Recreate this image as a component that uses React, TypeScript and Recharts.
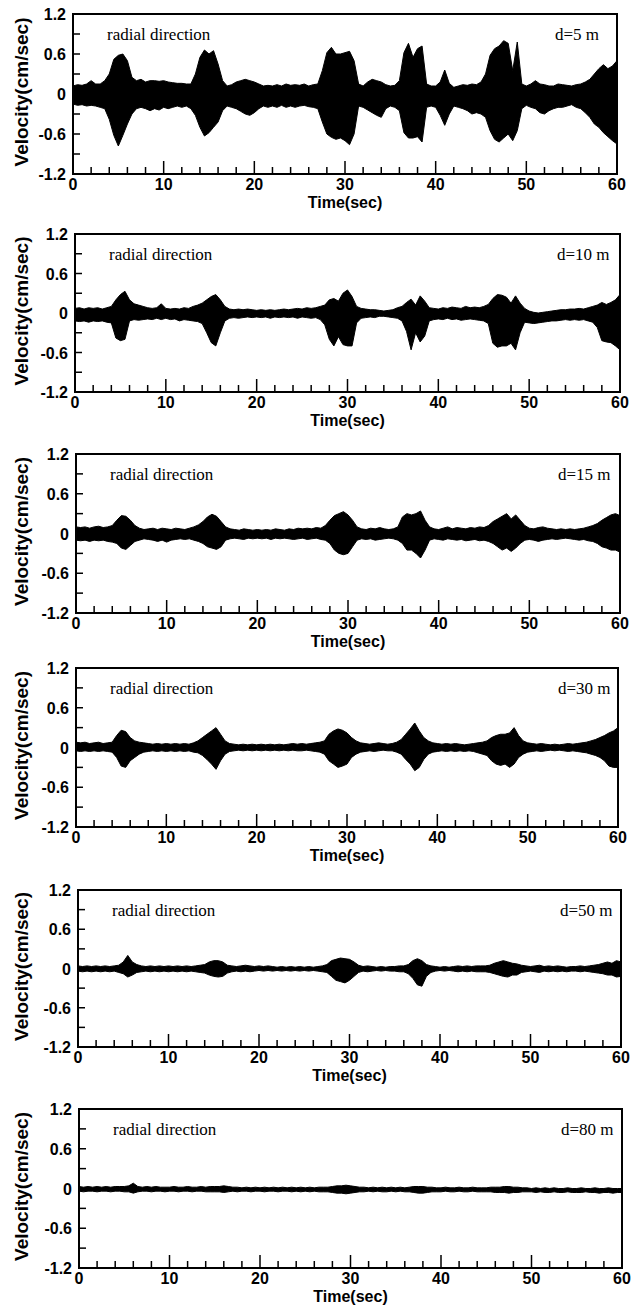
import { AreaChart, Area, XAxis, YAxis, ReferenceArea } from "recharts";

// sample grid: 0 .. 60 s every 0.5 s (121 points); envelopes
const TIME = Array.from({ length: 121 }, (_, i) => i / 2);

const X_TICKS = [0, 2, 4, 6, 8, 10, 12, 14, 16, 18, 20, 22, 24, 26, 28, 30, 32, 34, 36, 38, 40, 42, 44, 46, 48, 50, 52, 54, 56, 58, 60];
const Y_TICKS = [-1.2, -0.9, -0.6, -0.3, 0, 0.3, 0.6, 0.9, 1.2];
const Y_LABELED = [-1.2, -0.6, 0, 0.6, 1.2];

// d = 5 m
const HI_5 = [
  0.12, 0.14, 0.13, 0.15, 0.2, 0.15, 0.15, 0.2, 0.3, 0.52,
  0.58, 0.6, 0.5, 0.25, 0.2, 0.22, 0.18, 0.2, 0.2, 0.19,
  0.2, 0.18, 0.17, 0.16, 0.16, 0.15, 0.15, 0.3, 0.55, 0.66,
  0.6, 0.65, 0.45, 0.2, 0.12, 0.14, 0.18, 0.2, 0.22, 0.2,
  0.18, 0.15, 0.12, 0.13, 0.12, 0.14, 0.12, 0.15, 0.13, 0.14,
  0.13, 0.15, 0.12, 0.14, 0.15, 0.35, 0.62, 0.7, 0.6, 0.6,
  0.62, 0.64, 0.5, 0.15, 0.12, 0.18, 0.22, 0.2, 0.18, 0.14,
  0.12, 0.13, 0.2, 0.62, 0.76, 0.55, 0.68, 0.72, 0.15, 0.12,
  0.12, 0.18, 0.36, 0.16, 0.1, 0.12, 0.14, 0.13, 0.15, 0.14,
  0.18, 0.3, 0.58, 0.68, 0.72, 0.8, 0.76, 0.35, 0.78, 0.15,
  0.12, 0.15, 0.2, 0.15, 0.14, 0.12, 0.12, 0.15, 0.14, 0.13,
  0.12, 0.14, 0.15, 0.18, 0.22, 0.3, 0.38, 0.44, 0.38, 0.42,
  0.5,
];
const LO_5 = [
  -0.15, -0.17, -0.16, -0.18, -0.17, -0.18, -0.2, -0.22, -0.38, -0.62,
  -0.78, -0.62, -0.45, -0.3, -0.22, -0.2, -0.22, -0.25, -0.22, -0.24,
  -0.2, -0.22, -0.2, -0.18, -0.2, -0.18, -0.22, -0.32, -0.5, -0.63,
  -0.58, -0.5, -0.42, -0.25, -0.18, -0.2, -0.22, -0.26, -0.3, -0.32,
  -0.28, -0.22, -0.18, -0.2, -0.18, -0.2, -0.17, -0.2, -0.18, -0.2,
  -0.18, -0.17, -0.19, -0.2, -0.22, -0.42, -0.6, -0.65, -0.68, -0.66,
  -0.7, -0.76, -0.6, -0.18, -0.2, -0.24, -0.28, -0.32, -0.35, -0.22,
  -0.18, -0.2, -0.25, -0.58, -0.66, -0.66, -0.64, -0.72, -0.2, -0.18,
  -0.2, -0.32, -0.47, -0.3, -0.18, -0.2, -0.22, -0.25, -0.3, -0.28,
  -0.3, -0.35, -0.55, -0.68, -0.72, -0.66, -0.6, -0.7, -0.55, -0.22,
  -0.17, -0.2, -0.22, -0.28, -0.3, -0.25, -0.22, -0.2, -0.2, -0.18,
  -0.16, -0.2, -0.22, -0.28, -0.35, -0.45, -0.5, -0.58, -0.64, -0.7,
  -0.75,
];

// d = 10 m
const HI_10 = [
  0.07, 0.08, 0.06, 0.08, 0.07, 0.08, 0.06, 0.08, 0.1, 0.2,
  0.28, 0.33, 0.2, 0.14, 0.12, 0.1, 0.08, 0.07, 0.08, 0.14,
  0.07, 0.06, 0.07, 0.06, 0.08, 0.07, 0.1, 0.12, 0.15, 0.2,
  0.25, 0.28, 0.2, 0.1, 0.06, 0.05, 0.06, 0.05, 0.06, 0.05,
  0.04, 0.05, 0.04, 0.05, 0.04, 0.05, 0.06, 0.05, 0.06, 0.07,
  0.06, 0.08, 0.07, 0.08, 0.1, 0.12, 0.2, 0.22, 0.18, 0.3,
  0.35, 0.25, 0.1, 0.07, 0.06, 0.05, 0.05, 0.04, 0.03, 0.04,
  0.05, 0.08, 0.1, 0.16, 0.21, 0.12, 0.26, 0.18, 0.08, 0.07,
  0.06, 0.08, 0.07, 0.09, 0.08, 0.07, 0.1, 0.08, 0.09, 0.08,
  0.1, 0.13, 0.22, 0.28, 0.27, 0.24, 0.15, 0.26, 0.15, 0.07,
  0.03, 0.01, 0.0, 0.01, 0.02, 0.03, 0.04, 0.05, 0.05, 0.06,
  0.06, 0.07, 0.06, 0.08, 0.1, 0.12, 0.16, 0.13, 0.16, 0.2,
  0.28,
];
const LO_10 = [
  -0.12, -0.13, -0.12, -0.14, -0.12, -0.13, -0.12, -0.14, -0.15, -0.38,
  -0.42, -0.4, -0.12, -0.1, -0.11, -0.1, -0.09, -0.1, -0.08, -0.1,
  -0.08, -0.1, -0.09, -0.12, -0.1, -0.11, -0.12, -0.13, -0.16, -0.3,
  -0.45, -0.5, -0.3, -0.12, -0.08, -0.07, -0.08, -0.07, -0.06, -0.07,
  -0.06, -0.07, -0.06, -0.08, -0.06, -0.07, -0.06, -0.07, -0.06, -0.08,
  -0.06, -0.07, -0.08, -0.07, -0.1, -0.18, -0.4, -0.5, -0.36, -0.48,
  -0.5, -0.5, -0.15, -0.08, -0.07, -0.06, -0.07, -0.05, -0.05, -0.06,
  -0.07, -0.08, -0.12, -0.28, -0.56, -0.3, -0.44, -0.35, -0.12, -0.1,
  -0.09, -0.1, -0.08, -0.1, -0.09, -0.11, -0.1, -0.09, -0.1, -0.11,
  -0.12, -0.16, -0.46, -0.52, -0.5, -0.5, -0.46, -0.56, -0.3, -0.14,
  -0.15, -0.16, -0.15, -0.14, -0.13, -0.12, -0.12, -0.11, -0.1, -0.11,
  -0.1, -0.11, -0.1, -0.12, -0.14, -0.22, -0.42, -0.44, -0.45, -0.5,
  -0.56,
];

// d = 15 m
const HI_15 = [
  0.1, 0.09, 0.1, 0.08, 0.1, 0.11, 0.09, 0.1, 0.12, 0.2,
  0.27, 0.26, 0.2, 0.12, 0.08, 0.06, 0.07, 0.08, 0.06, 0.08,
  0.07, 0.06, 0.08, 0.07, 0.06, 0.08, 0.1, 0.13, 0.18, 0.25,
  0.29, 0.26, 0.18, 0.1, 0.07, 0.06, 0.05, 0.07, 0.06, 0.05,
  0.06, 0.05, 0.06, 0.05, 0.07, 0.06, 0.05, 0.07, 0.06, 0.08,
  0.07, 0.08, 0.07, 0.09, 0.08, 0.12, 0.2, 0.27, 0.3, 0.33,
  0.28, 0.2, 0.1, 0.07, 0.06, 0.08, 0.07, 0.09, 0.07, 0.06,
  0.07, 0.1, 0.25, 0.3, 0.28, 0.3, 0.34, 0.2, 0.1, 0.07,
  0.06, 0.08, 0.1, 0.07, 0.09, 0.08, 0.07, 0.09, 0.08, 0.1,
  0.09, 0.12, 0.18, 0.22, 0.26, 0.3, 0.22, 0.28, 0.2, 0.12,
  0.08, 0.07, 0.09, 0.1, 0.08, 0.07, 0.06, 0.07, 0.06, 0.07,
  0.06, 0.07, 0.08, 0.1, 0.12, 0.15, 0.2, 0.24, 0.28, 0.3,
  0.27,
];
const LO_15 = [
  -0.1, -0.11, -0.1, -0.12, -0.1, -0.11, -0.1, -0.12, -0.13, -0.15,
  -0.22, -0.24, -0.18, -0.12, -0.1, -0.08, -0.09, -0.1, -0.12, -0.1,
  -0.13, -0.1, -0.09, -0.08, -0.09, -0.08, -0.1, -0.12, -0.15, -0.2,
  -0.22, -0.24, -0.2, -0.1, -0.08, -0.07, -0.08, -0.09, -0.07, -0.08,
  -0.07, -0.08, -0.07, -0.09, -0.07, -0.08, -0.07, -0.08, -0.09, -0.08,
  -0.07, -0.09, -0.08, -0.07, -0.09, -0.1, -0.15, -0.25, -0.3, -0.32,
  -0.3, -0.2, -0.1, -0.08, -0.09, -0.08, -0.1, -0.09, -0.08, -0.07,
  -0.08, -0.1, -0.15, -0.25, -0.25, -0.3, -0.37, -0.25, -0.1, -0.08,
  -0.09, -0.1, -0.08, -0.09, -0.1, -0.09, -0.11, -0.1, -0.09, -0.11,
  -0.1, -0.12, -0.15, -0.2, -0.25, -0.22, -0.27, -0.22, -0.15, -0.1,
  -0.09, -0.1, -0.12, -0.1, -0.09, -0.08, -0.09, -0.08, -0.07, -0.08,
  -0.09, -0.1, -0.09, -0.11, -0.12, -0.15, -0.2, -0.22, -0.25, -0.25,
  -0.28,
];

// d = 30 m
const HI_30 = [
  0.08, 0.07, 0.08, 0.06, 0.07, 0.08, 0.06, 0.07, 0.08, 0.18,
  0.26, 0.24, 0.15, 0.1, 0.08, 0.07, 0.06, 0.05, 0.06, 0.05,
  0.06, 0.05, 0.06, 0.05, 0.06, 0.05, 0.07, 0.1, 0.15, 0.2,
  0.25, 0.3, 0.2, 0.1, 0.06, 0.05, 0.04, 0.05, 0.04, 0.05,
  0.04, 0.05, 0.04, 0.05, 0.04, 0.05, 0.04, 0.05, 0.06, 0.05,
  0.06, 0.05, 0.06, 0.07, 0.08, 0.1, 0.2, 0.25, 0.28, 0.26,
  0.22, 0.15, 0.1, 0.07, 0.06, 0.05, 0.06, 0.07, 0.06, 0.05,
  0.06, 0.08, 0.12, 0.2, 0.28, 0.37, 0.25, 0.15, 0.1, 0.07,
  0.06, 0.05, 0.06, 0.05, 0.06, 0.05, 0.04, 0.05, 0.06, 0.07,
  0.08, 0.1, 0.15, 0.18, 0.2, 0.2, 0.22, 0.3, 0.18, 0.1,
  0.07, 0.06, 0.05, 0.06, 0.05, 0.04, 0.05, 0.04, 0.05, 0.06,
  0.05, 0.06, 0.07, 0.08, 0.1, 0.12, 0.15, 0.18, 0.22, 0.25,
  0.3,
];
const LO_30 = [
  -0.05, -0.06, -0.05, -0.06, -0.05, -0.06, -0.05, -0.06, -0.07, -0.15,
  -0.28, -0.3, -0.2, -0.15, -0.1, -0.07, -0.06, -0.05, -0.06, -0.05,
  -0.06, -0.05, -0.06, -0.05, -0.06, -0.05, -0.07, -0.08, -0.12, -0.18,
  -0.25, -0.33, -0.2, -0.1, -0.06, -0.05, -0.04, -0.05, -0.04, -0.05,
  -0.04, -0.05, -0.04, -0.05, -0.04, -0.05, -0.04, -0.05, -0.04, -0.05,
  -0.05, -0.04, -0.05, -0.06, -0.07, -0.1, -0.2, -0.25, -0.3, -0.28,
  -0.25, -0.15, -0.1, -0.07, -0.06, -0.05, -0.06, -0.05, -0.04, -0.05,
  -0.05, -0.07, -0.1, -0.18, -0.25, -0.35, -0.3, -0.18, -0.1, -0.07,
  -0.06, -0.05, -0.06, -0.05, -0.06, -0.05, -0.06, -0.05, -0.06, -0.08,
  -0.1, -0.12, -0.2, -0.25, -0.27, -0.25, -0.3, -0.25, -0.15, -0.1,
  -0.07, -0.06, -0.05, -0.06, -0.05, -0.04, -0.05, -0.04, -0.05, -0.06,
  -0.05, -0.06, -0.07, -0.08, -0.1, -0.12, -0.15, -0.2, -0.28, -0.3,
  -0.3,
];

// d = 50 m
const HI_50 = [
  0.04, 0.03, 0.04, 0.03, 0.04, 0.03, 0.04, 0.03, 0.04, 0.05,
  0.1, 0.2, 0.1, 0.06, 0.04, 0.03, 0.04, 0.03, 0.04, 0.03,
  0.04, 0.03, 0.04, 0.03, 0.04, 0.03, 0.04, 0.05, 0.06, 0.1,
  0.12, 0.12, 0.1, 0.05, 0.04, 0.03, 0.04, 0.05, 0.04, 0.03,
  0.04, 0.03, 0.04, 0.03, 0.02, 0.03, 0.02, 0.03, 0.02, 0.03,
  0.02, 0.03, 0.02, 0.03, 0.04, 0.06, 0.12, 0.14, 0.16, 0.15,
  0.14, 0.1, 0.05, 0.03, 0.04, 0.03, 0.02, 0.03, 0.02, 0.03,
  0.03, 0.04, 0.04, 0.06, 0.12, 0.15, 0.12, 0.06, 0.04, 0.03,
  0.02, 0.03, 0.02, 0.03, 0.04, 0.03, 0.04, 0.03, 0.04, 0.04,
  0.04, 0.05, 0.08, 0.1, 0.12, 0.1, 0.08, 0.07, 0.05, 0.04,
  0.03, 0.04, 0.05, 0.03, 0.04, 0.03, 0.04, 0.03, 0.02, 0.03,
  0.03, 0.04, 0.03, 0.04, 0.05, 0.06, 0.08, 0.1, 0.08, 0.12,
  0.1,
];
const LO_50 = [
  -0.04, -0.05, -0.04, -0.05, -0.04, -0.05, -0.04, -0.05, -0.04, -0.06,
  -0.08, -0.13, -0.1, -0.06, -0.05, -0.04, -0.05, -0.04, -0.05, -0.04,
  -0.05, -0.04, -0.05, -0.04, -0.05, -0.04, -0.05, -0.06, -0.07, -0.1,
  -0.12, -0.13, -0.12, -0.07, -0.05, -0.04, -0.05, -0.04, -0.05, -0.04,
  -0.03, -0.04, -0.03, -0.04, -0.03, -0.04, -0.03, -0.04, -0.03, -0.04,
  -0.03, -0.04, -0.03, -0.04, -0.05, -0.06, -0.12, -0.18, -0.2, -0.22,
  -0.18, -0.12, -0.06, -0.04, -0.05, -0.04, -0.03, -0.04, -0.03, -0.04,
  -0.04, -0.05, -0.05, -0.08, -0.15, -0.25, -0.27, -0.12, -0.06, -0.04,
  -0.03, -0.04, -0.03, -0.04, -0.05, -0.04, -0.05, -0.04, -0.05, -0.05,
  -0.05, -0.06, -0.08, -0.1, -0.12, -0.13, -0.1, -0.1, -0.06, -0.05,
  -0.04, -0.05, -0.06, -0.04, -0.05, -0.04, -0.05, -0.04, -0.05, -0.04,
  -0.04, -0.05, -0.04, -0.05, -0.06, -0.07, -0.08, -0.1, -0.1, -0.13,
  -0.12,
];

// d = 80 m
const HI_80 = [
  0.03, 0.02, 0.03, 0.02, 0.03, 0.02, 0.03, 0.02, 0.03, 0.03,
  0.03, 0.04, 0.08, 0.03, 0.02, 0.03, 0.02, 0.03, 0.02, 0.02,
  0.02, 0.03, 0.02, 0.02, 0.03, 0.02, 0.02, 0.03, 0.02, 0.03,
  0.03, 0.03, 0.04, 0.03, 0.02, 0.02, 0.01, 0.02, 0.01, 0.02,
  0.01, 0.02, 0.01, 0.02, 0.01, 0.02, 0.01, 0.02, 0.01, 0.02,
  0.01, 0.02, 0.01, 0.02, 0.02, 0.02, 0.03, 0.04, 0.04, 0.05,
  0.04, 0.03, 0.02, 0.02, 0.01, 0.02, 0.01, 0.02, 0.01, 0.02,
  0.01, 0.02, 0.01, 0.02, 0.03, 0.03, 0.03, 0.02, 0.02, 0.01,
  0.01, 0.02, 0.01, 0.01, 0.02, 0.01, 0.01, 0.02, 0.01, 0.01,
  0.01, 0.02, 0.02, 0.02, 0.03, 0.03, 0.02, 0.02, 0.01, 0.01,
  0.0, 0.01, 0.0, 0.01, 0.0, 0.01, 0.0, 0.0, 0.01, 0.0,
  0.0, 0.01, 0.0, 0.0, 0.01, 0.0, 0.0, 0.01, 0.0, 0.0,
  0.0,
];
const LO_80 = [
  -0.04, -0.05, -0.04, -0.04, -0.05, -0.04, -0.04, -0.05, -0.04, -0.04,
  -0.05, -0.05, -0.07, -0.05, -0.04, -0.04, -0.05, -0.04, -0.04, -0.05,
  -0.04, -0.04, -0.05, -0.04, -0.04, -0.05, -0.04, -0.04, -0.05, -0.05,
  -0.05, -0.05, -0.06, -0.05, -0.04, -0.05, -0.04, -0.04, -0.05, -0.04,
  -0.04, -0.05, -0.04, -0.04, -0.05, -0.04, -0.04, -0.05, -0.04, -0.05,
  -0.04, -0.05, -0.04, -0.05, -0.05, -0.05, -0.06, -0.07, -0.07, -0.08,
  -0.07, -0.06, -0.05, -0.05, -0.04, -0.05, -0.04, -0.05, -0.05, -0.04,
  -0.05, -0.04, -0.05, -0.05, -0.06, -0.07, -0.07, -0.06, -0.05, -0.05,
  -0.05, -0.04, -0.05, -0.05, -0.04, -0.05, -0.05, -0.04, -0.05, -0.05,
  -0.05, -0.05, -0.06, -0.06, -0.06, -0.07, -0.06, -0.06, -0.05, -0.05,
  -0.05, -0.06, -0.05, -0.06, -0.06, -0.05, -0.06, -0.06, -0.05, -0.06,
  -0.06, -0.06, -0.05, -0.06, -0.06, -0.07, -0.06, -0.06, -0.07, -0.06,
  -0.06,
];

const PANELS = [
  { name: "d=5 m", hi: HI_5, lo: LO_5 },
  { name: "d=10 m", hi: HI_10, lo: LO_10 },
  { name: "d=15 m", hi: HI_15, lo: LO_15 },
  { name: "d=30 m", hi: HI_30, lo: LO_30 },
  { name: "d=50 m", hi: HI_50, lo: LO_50 },
  { name: "d=80 m", hi: HI_80, lo: LO_80 },
];

// plot frame of each panel on the page (the scan is slightly skewed)
const FRAMES = [
  { top: 14, bottom: 174, left: 73, right: 617 },
  { top: 234, bottom: 392, left: 75, right: 620 },
  { top: 454, bottom: 613, left: 76, right: 620 },
  { top: 668, bottom: 827, left: 76, right: 618 },
  { top: 890, bottom: 1047, left: 78, right: 621 },
  { top: 1109, bottom: 1268, left: 79, right: 622 },
];

const SANS = "'Liberation Sans', Arial, Helvetica, sans-serif";
const SERIF = "'Liberation Serif', 'Times New Roman', serif";
const PAD_TOP = 12;
const AXIS_H = 46;

function XTick(props: any) {
  const { x, y, payload } = props;
  const major = payload.value % 10 === 0;
  return (
    <g>
      <line x1={x} y1={y} x2={x} y2={y - (major ? 13 : 7)} stroke="#000" strokeWidth={1.5} />
      {major && (
        <text x={x} y={y + 16} textAnchor="middle" fontFamily={SANS} fontWeight="bold" fontSize={16} fill="#000">
          {payload.value}
        </text>
      )}
    </g>
  );
}

function YTick(props: any) {
  const { x, y, payload } = props;
  const labeled = Y_LABELED.includes(payload.value);
  return (
    <g>
      <line x1={x} y1={y} x2={x + 7} y2={y} stroke="#000" strokeWidth={1.5} />
      {labeled && (
        <text x={x - 7} y={y + 6} textAnchor="end" fontFamily={SANS} fontWeight="bold" fontSize={16} fill="#000">
          {payload.value}
        </text>
      )}
    </g>
  );
}

function Panel({ name, hi, lo, frame }: { name: string; hi: number[]; lo: number[]; frame: typeof FRAMES[number] }) {
  const data = TIME.map((t, i) => ({ t, band: [lo[i], hi[i]] }));
  const plotH = frame.bottom - frame.top;
  const height = PAD_TOP + plotH + AXIS_H;

  const annotate = (p: any) => {
    const vb = p.viewBox;
    const cy = vb.y + vb.height / 2 - 2;
    return (
      <g>
        <text x={vb.x + 34} y={vb.y + 26} fontFamily={SERIF} fontSize={17} fill="#000">
          radial direction
        </text>
        <text x={vb.x + 482} y={vb.y + 26} fontFamily={SERIF} fontSize={17} fill="#000">
          {name}
        </text>
        <text
          x={21}
          y={cy}
          transform={`rotate(-90 21 ${cy})`}
          textAnchor="middle"
          dominantBaseline="central"
          fontFamily={SANS}
          fontWeight="bold"
          fontSize={19}
          fill="#000"
        >
          Velocity(cm/sec)
        </text>
        <text x={vb.x + vb.width / 2} y={vb.y + vb.height + 34} textAnchor="middle" fontFamily={SANS} fontWeight="bold" fontSize={16} fill="#000">
          Time(sec)
        </text>
      </g>
    );
  };

  return (
    <div style={{ position: "absolute", left: 0, top: frame.top - PAD_TOP, width: 636, height }}>
      <AreaChart
        width={636}
        height={height}
        data={data}
        margin={{ top: PAD_TOP, right: 636 - frame.right, bottom: 0, left: 0 }}
      >
        <XAxis
          dataKey="t"
          type="number"
          domain={[0, 60]}
          ticks={X_TICKS}
          interval={0}
          tickSize={0}
          tickMargin={0}
          tick={XTick}
          height={AXIS_H}
          axisLine={{ stroke: "#000", strokeWidth: 2 }}
        />
        <YAxis
          type="number"
          domain={[-1.2, 1.2]}
          ticks={Y_TICKS}
          interval={0}
          tickSize={0}
          tickMargin={0}
          tick={YTick}
          width={frame.left}
          allowDataOverflow
          axisLine={{ stroke: "#000", strokeWidth: 2 }}
        />
        <Area
          dataKey="band"
          type="linear"
          fill="#000"
          fillOpacity={1}
          stroke="#000"
          strokeWidth={1}
          dot={false}
          activeDot={false}
          isAnimationActive={false}
        />
        <ReferenceArea
          x1={0}
          x2={60}
          y1={-1.2}
          y2={1.2}
          fill="none"
          fillOpacity={0}
          stroke="#000"
          strokeWidth={2}
          label={{ content: annotate }}
        />
      </AreaChart>
    </div>
  );
}

export default function App() {
  return (
    <div style={{ position: "absolute", left: 0, top: 0, width: 636, height: 1315, background: "#fff" }}>
      {PANELS.map((p, i) => (
        <Panel key={p.name} name={p.name} hi={p.hi} lo={p.lo} frame={FRAMES[i]} />
      ))}
    </div>
  );
}
